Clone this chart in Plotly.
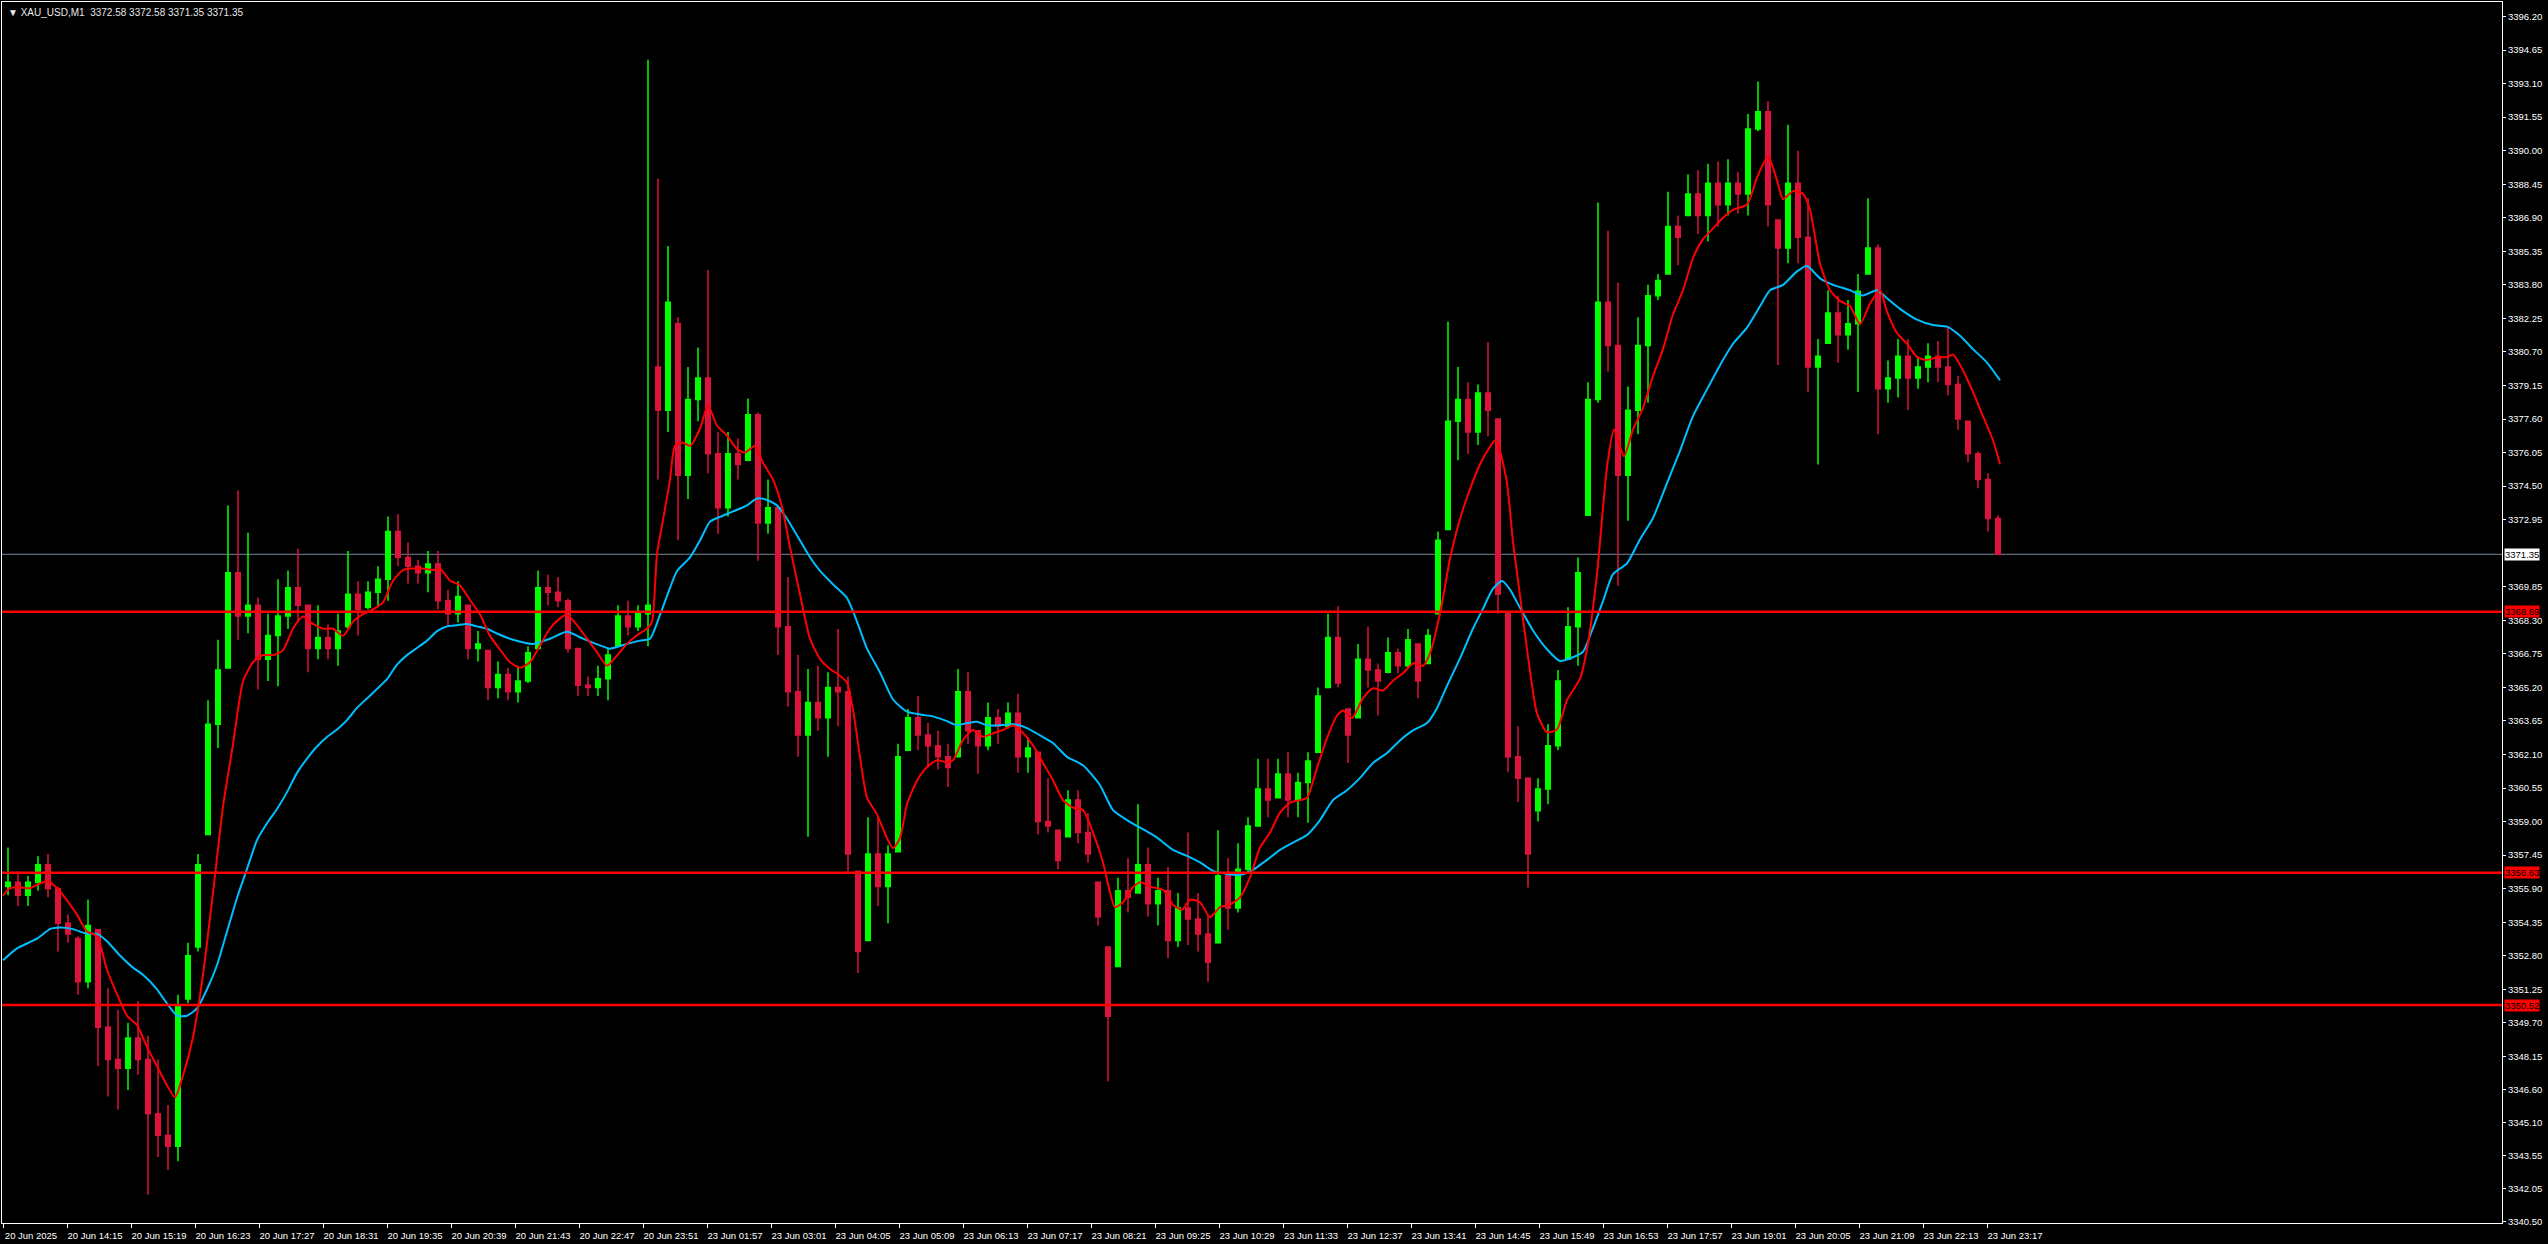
import plotly.graph_objects as go

# ---------------- data (10-minute groups of the M1 bars) -------------
open_ = [
    3356.0, 3356.2, 3355.6, 3356.2, 3357.0, 3355.9, 3354.3, 3353.6, 3351.6, 3354.0,
    3349.5, 3348.0, 3347.6, 3349.0, 3348.0, 3345.5, 3344.5, 3344.0, 3350.8, 3353.2,
    3358.4, 3363.5, 3366.1, 3370.5, 3368.5, 3369.0, 3366.5, 3367.6, 3368.5, 3369.8,
    3369.0, 3367.0, 3367.5, 3367.0, 3368.0, 3369.5, 3368.9, 3369.6, 3370.2, 3372.4,
    3371.2, 3370.8, 3370.5, 3370.9, 3369.2, 3368.6, 3369.0, 3367.0, 3366.9, 3365.2,
    3365.8, 3365.0, 3365.5, 3367.0, 3369.8, 3369.6, 3369.2, 3367.0, 3365.3, 3365.2,
    3365.6, 3367.1, 3368.5, 3368.0, 3368.6, 3380.0, 3378.0, 3382.0, 3375.0, 3378.5,
    3379.5, 3376.0, 3373.5, 3376.0, 3375.7, 3377.8, 3372.8, 3373.5, 3368.0, 3365.0,
    3363.0, 3364.5, 3363.8, 3365.2, 3365.0, 3356.7, 3353.5, 3357.5, 3356.0, 3357.6,
    3362.3, 3363.8, 3363.0, 3362.5, 3362.0, 3362.0, 3365.0, 3363.2, 3362.5, 3363.8,
    3363.4, 3364.0, 3362.0, 3362.2, 3359.0, 3358.6, 3358.3, 3360.0, 3358.5, 3356.2,
    3353.2, 3352.3, 3355.8, 3355.7, 3357.0, 3355.2, 3355.8, 3353.5, 3355.0, 3354.5,
    3353.8, 3353.4, 3356.5, 3355.0, 3356.8, 3358.8, 3360.5, 3360.1, 3361.2, 3360.0,
    3360.8, 3362.2, 3365.2, 3367.5, 3364.2, 3363.8, 3366.5, 3366.0, 3365.9, 3366.8,
    3366.2, 3367.2, 3366.3, 3368.6, 3372.5, 3377.5, 3378.5, 3377.0, 3378.8, 3377.6,
    3368.7, 3362.0, 3361.0, 3359.5, 3360.5, 3362.5, 3366.5, 3368.0, 3373.15, 3378.5,
    3383.0, 3381.0, 3375.0, 3378.0, 3381.0, 3383.3, 3384.3, 3386.5, 3387.0, 3388.0,
    3387.0, 3388.5, 3387.5, 3388.5, 3388.0, 3391.0, 3391.8, 3386.8, 3385.5, 3388.5,
    3386.0, 3380.0, 3381.1, 3382.5, 3381.5, 3382.0, 3384.3, 3385.5, 3379.0, 3379.5,
    3380.5, 3379.5, 3380.0, 3380.5, 3380.0, 3379.2, 3377.5, 3376.0, 3374.8, 3373.0,
]
high = [
    3357.8, 3356.7, 3356.5, 3357.4, 3357.5, 3356.0, 3354.7, 3353.7, 3355.4, 3354.0,
    3351.3, 3350.3, 3349.7, 3350.7, 3349.1, 3348.0, 3345.9, 3351.0, 3353.4, 3357.5,
    3364.6, 3367.4, 3373.6, 3374.3, 3372.35, 3369.35, 3368.6, 3370.2, 3370.6, 3371.6,
    3369.0, 3369.0, 3368.1, 3368.6, 3371.5, 3370.1, 3370.1, 3370.8, 3373.1, 3373.2,
    3371.9, 3371.1, 3371.5, 3371.5, 3369.7, 3370.1, 3369.0, 3367.8, 3366.9, 3366.4,
    3366.1, 3366.2, 3367.1, 3370.6, 3370.4, 3370.3, 3369.3, 3367.0, 3365.7, 3366.2,
    3367.0, 3369.0, 3369.2, 3369.0, 3394.2, 3388.7, 3385.6, 3382.3, 3380.0, 3380.9,
    3384.5, 3377.0, 3377.0, 3376.7, 3378.55, 3377.9, 3374.8, 3373.55, 3370.3, 3366.7,
    3366.05, 3366.2, 3365.9, 3367.9, 3365.7, 3356.7, 3359.2, 3359.2, 3357.9, 3362.6,
    3364.2, 3364.8, 3363.55, 3363.2, 3362.6, 3366.05, 3365.9, 3363.2, 3364.5, 3364.2,
    3364.5, 3364.9, 3362.9, 3362.2, 3361.0, 3358.6, 3360.45, 3360.45, 3359.4, 3356.2,
    3353.2, 3356.4, 3357.3, 3359.8, 3357.8, 3356.4, 3356.9, 3355.7, 3358.5, 3355.7,
    3354.7, 3358.6, 3357.3, 3358.0, 3359.2, 3361.9, 3361.9, 3361.9, 3362.2, 3361.25,
    3362.2, 3365.2, 3368.6, 3368.95, 3364.2, 3367.2, 3368.0, 3366.3, 3367.5, 3367.0,
    3367.9, 3367.2, 3367.9, 3372.4, 3382.1, 3380.0, 3379.3, 3379.2, 3381.15, 3377.6,
    3368.7, 3363.4, 3361.0, 3361.0, 3363.5, 3366.0, 3368.9, 3371.2, 3379.3, 3387.6,
    3386.3, 3383.9, 3379.1, 3382.3, 3383.8, 3384.3, 3388.1, 3387.0, 3388.9, 3389.1,
    3389.4, 3389.5, 3389.6, 3389.0, 3391.7, 3393.2, 3392.3, 3386.8, 3391.2, 3390.0,
    3387.8, 3381.3, 3383.55, 3383.3, 3383.1, 3384.3, 3387.8, 3385.66, 3380.3, 3381.3,
    3381.3, 3380.5, 3381.1, 3381.2, 3381.9, 3379.6, 3377.5, 3376.1, 3375.1, 3373.15,
]
low = [
    3355.6, 3355.1, 3355.1, 3355.8, 3355.5, 3353.0, 3353.4, 3351.0, 3351.3, 3347.7,
    3346.3, 3345.7, 3346.6, 3347.3, 3341.75, 3343.5, 3342.9, 3343.3, 3350.6, 3353.0,
    3358.4, 3362.4, 3366.1, 3367.4, 3367.7, 3365.1, 3365.5, 3365.25, 3367.9, 3368.2,
    3365.9, 3366.5, 3366.5, 3366.2, 3367.9, 3367.6, 3368.8, 3368.9, 3369.2, 3370.8,
    3370.0, 3370.0, 3369.6, 3368.8, 3368.0, 3368.2, 3366.5, 3366.4, 3364.6, 3364.7,
    3364.6, 3364.5, 3365.4, 3367.0, 3369.0, 3368.9, 3366.8, 3364.8, 3364.8, 3364.8,
    3364.6, 3367.1, 3367.6, 3367.8, 3367.1, 3374.8, 3377.0, 3372.0, 3373.9, 3377.5,
    3375.1, 3372.3, 3373.1, 3374.8, 3375.7, 3371.05, 3372.3, 3366.7, 3364.3, 3362.0,
    3358.3, 3363.2, 3362.0, 3363.4, 3356.7, 3352.0, 3353.5, 3355.1, 3354.3, 3357.6,
    3362.3, 3362.3, 3361.5, 3361.4, 3360.6, 3362.0, 3362.6, 3361.2, 3362.3, 3362.6,
    3363.3, 3361.25, 3361.25, 3358.4, 3358.5, 3356.8, 3358.3, 3358.0, 3357.1, 3354.2,
    3347.0, 3352.3, 3354.8, 3355.7, 3354.6, 3354.2, 3352.7, 3353.2, 3353.3, 3353.0,
    3351.6, 3353.4, 3354.0, 3354.8, 3356.65, 3358.8, 3359.2, 3360.1, 3359.2, 3359.2,
    3358.95, 3362.2, 3365.2, 3365.2, 3361.7, 3363.8, 3365.2, 3363.9, 3365.85, 3365.85,
    3366.1, 3364.7, 3366.3, 3368.6, 3372.5, 3375.7, 3376.0, 3376.4, 3376.8, 3368.6,
    3361.3, 3359.9, 3355.95, 3359.0, 3359.8, 3362.3, 3366.5, 3366.2, 3373.15, 3378.35,
    3379.8, 3369.9, 3372.9, 3376.9, 3378.35, 3383.1, 3384.3, 3384.7, 3387.0, 3386.15,
    3385.8, 3386.5, 3387.0, 3387.1, 3387.0, 3390.9, 3386.5, 3380.1, 3384.8, 3384.8,
    3378.85, 3375.5, 3381.1, 3380.2, 3380.8, 3378.85, 3384.3, 3376.9, 3378.35, 3378.6,
    3378.0, 3379.0, 3379.3, 3379.3, 3378.7, 3377.1, 3375.6, 3374.4, 3372.4, 3371.35,
]
close = [
    3356.2, 3355.6, 3356.2, 3357.0, 3355.9, 3354.3, 3353.8, 3351.6, 3354.2, 3349.5,
    3348.0, 3347.6, 3349.0, 3348.0, 3345.5, 3344.5, 3344.0, 3350.5, 3352.8, 3357.0,
    3363.5, 3366.0, 3370.5, 3368.5, 3369.0, 3366.5, 3367.6, 3368.5, 3369.8, 3369.0,
    3367.0, 3367.5, 3367.0, 3367.8, 3369.5, 3368.8, 3369.6, 3370.2, 3372.4, 3371.2,
    3370.8, 3370.5, 3370.9, 3369.2, 3368.6, 3369.4, 3367.0, 3367.2, 3365.2, 3365.8,
    3365.0, 3365.5, 3366.8, 3369.8, 3369.6, 3369.2, 3367.0, 3365.3, 3365.2, 3365.6,
    3366.7, 3368.5, 3368.0, 3368.6, 3369.0, 3378.0, 3383.0, 3375.0, 3378.5, 3379.5,
    3376.0, 3373.5, 3376.0, 3375.5, 3377.8, 3372.8, 3373.5, 3368.0, 3365.0, 3363.0,
    3364.5, 3363.8, 3365.2, 3365.0, 3357.5, 3353.0, 3357.5, 3356.0, 3357.5, 3362.0,
    3363.8, 3363.0, 3362.5, 3362.0, 3361.5, 3365.0, 3363.2, 3362.5, 3363.8, 3363.4,
    3364.0, 3362.0, 3362.4, 3359.0, 3358.8, 3357.2, 3360.0, 3358.5, 3357.5, 3354.6,
    3350.0, 3355.8, 3355.5, 3357.0, 3355.2, 3355.8, 3353.5, 3355.0, 3354.5, 3353.8,
    3352.5, 3356.5, 3355.0, 3356.8, 3358.8, 3360.5, 3360.0, 3361.2, 3360.0, 3360.8,
    3361.8, 3364.8, 3367.5, 3365.4, 3363.0, 3366.5, 3366.0, 3365.5, 3366.8, 3366.2,
    3367.4, 3365.5, 3367.6, 3372.0, 3377.5, 3378.5, 3377.0, 3378.8, 3378.0, 3369.5,
    3362.0, 3361.0, 3357.5, 3360.5, 3362.5, 3365.5, 3368.0, 3370.5, 3378.5, 3383.0,
    3381.0, 3375.0, 3378.0, 3381.0, 3383.3, 3384.0, 3386.5, 3386.0, 3388.0, 3387.0,
    3388.5, 3387.5, 3388.5, 3388.0, 3391.0, 3391.8, 3387.5, 3385.5, 3388.5, 3386.0,
    3380.0, 3380.5, 3382.5, 3381.5, 3382.0, 3383.5, 3385.5, 3379.0, 3379.5, 3380.5,
    3379.5, 3380.0, 3380.5, 3380.0, 3379.2, 3377.6, 3376.0, 3374.8, 3373.0, 3371.35,
]

# red moving average: (bar-minute index, price)
red_ma_x = [0, 7, 17, 27, 37, 45, 54, 64, 74, 84, 94, 104, 114, 124, 134, 144, 154, 164, 172, 180,
            190, 200, 210, 220, 230, 240, 250, 260, 270, 280, 290, 300, 310, 320, 330, 340, 350, 360,
            370, 380, 390, 400, 410, 420, 430, 437, 447, 457, 467, 477, 487, 497, 507, 517, 527, 537,
            547, 557, 564, 574, 584, 594, 604, 614, 624, 634, 644, 649, 654, 660, 667, 672, 680, 687,
            697, 705, 714, 724, 734, 742, 752, 760, 770, 779, 787, 797, 807, 817, 827, 837, 844, 850,
            857, 864, 874, 884, 890, 897, 904, 914, 924, 934, 944, 950, 960, 970, 980, 990, 1000, 1010,
            1020, 1030, 1040, 1050, 1060, 1070, 1080, 1090, 1100, 1107, 1112, 1120, 1130, 1137, 1150,
            1160, 1170, 1179, 1187, 1197, 1207, 1217, 1227, 1237, 1247, 1257, 1267, 1277, 1287, 1297,
            1304, 1314, 1324, 1334, 1340, 1349, 1360, 1370, 1380, 1390, 1400, 1410, 1420, 1427, 1437,
            1447, 1457, 1467, 1477, 1487, 1492, 1497, 1504, 1510, 1517, 1524, 1534, 1544, 1554, 1564,
            1577, 1584, 1594, 1604, 1611, 1621, 1630, 1640, 1650, 1660, 1670, 1680, 1690, 1700, 1710,
            1720, 1730, 1744, 1754, 1765, 1774, 1780, 1790, 1800, 1807, 1817, 1827, 1837, 1847, 1857,
            1867, 1877, 1884, 1894, 1904, 1914, 1924, 1934, 1944, 1950, 1960, 1970, 1980, 1990, 1997]
red_ma_y = [3355.58, 3355.92, 3355.96, 3355.92, 3356.14, 3356.25, 3355.92, 3355.36, 3354.70, 3353.92,
            3353.70, 3352.14, 3351.03, 3350.03, 3349.59, 3348.59, 3347.70, 3346.81, 3346.26, 3347.26,
            3349.03, 3351.92, 3355.70, 3359.69, 3362.58, 3365.47, 3366.36, 3366.69, 3366.69, 3366.91,
            3367.91, 3368.47, 3368.13, 3367.91, 3367.91, 3367.58, 3368.24, 3368.58, 3368.80, 3369.13,
            3370.13, 3370.62, 3370.69, 3370.69, 3370.62, 3370.69, 3370.13, 3369.91, 3369.24, 3368.58,
            3367.58, 3366.95, 3366.36, 3366.11, 3366.36, 3367.14, 3367.92, 3368.39, 3368.55, 3368.08,
            3367.45, 3366.83, 3366.20, 3366.67, 3367.21, 3367.61, 3367.92, 3368.24, 3371.36, 3372.93,
            3374.80, 3376.36, 3376.52, 3376.36, 3377.15, 3378.24, 3377.30, 3376.83, 3376.21, 3376.05,
            3376.36, 3375.58, 3374.80, 3373.55, 3371.67, 3369.49, 3367.45, 3366.52, 3366.05, 3365.74,
            3365.42, 3364.17, 3361.98, 3360.11, 3359.33, 3358.23, 3357.77, 3358.23, 3359.80, 3360.89,
            3361.52, 3361.83, 3361.74, 3361.83, 3362.77, 3363.23, 3362.92, 3363.08, 3363.23, 3363.44,
            3363.09, 3362.52, 3361.71, 3360.91, 3359.99, 3359.64, 3359.53, 3358.49, 3357.11, 3355.73,
            3355.04, 3355.27, 3355.96, 3356.19, 3355.96, 3355.85, 3355.16, 3354.93, 3355.39, 3355.27,
            3354.58, 3355.04, 3355.16, 3355.50, 3356.42, 3357.80, 3358.49, 3359.41, 3359.87, 3359.99,
            3360.10, 3361.48, 3362.86, 3363.90, 3364.13, 3363.78, 3364.70, 3365.16, 3365.05, 3365.51,
            3365.85, 3366.31, 3366.20, 3366.77, 3368.61, 3371.14, 3372.98, 3374.36, 3375.51, 3376.32,
            3376.61, 3376.13, 3374.64, 3371.92, 3369.44, 3366.96, 3364.00, 3363.13, 3363.25, 3364.61,
            3365.60, 3366.96, 3370.43, 3375.38, 3377.12, 3375.88, 3377.12, 3378.11, 3379.59, 3380.83,
            3382.44, 3383.55, 3385.04, 3385.91, 3386.40, 3386.90, 3387.27, 3387.51, 3388.75, 3389.74,
            3388.63, 3387.76, 3388.13, 3388.01, 3387.27, 3384.79, 3383.55, 3383.06, 3382.81, 3381.99,
            3382.93, 3383.55, 3382.56, 3381.57, 3381.08, 3380.46, 3380.33, 3380.46, 3380.46, 3380.58,
            3379.84, 3378.85, 3377.73, 3376.62, 3375.51]

# blue (slow) moving average
blue_ma_x = [0, 14, 34, 47, 57, 70, 84, 94, 104, 117, 130, 140, 154, 164, 174, 184, 194, 204, 214, 224,
             234, 244, 254, 264, 274, 284, 294, 304, 314, 324, 334, 344, 354, 364, 374, 384, 394, 404,
             414, 424, 434, 444, 454, 464, 474, 484, 494, 510, 530, 547, 564, 580, 597, 607, 624, 637,
             647, 657, 667, 674, 687, 697, 707, 717, 730, 744, 754, 764, 774, 784, 797, 807, 817, 830,
             844, 854, 864, 877, 890, 904, 917, 930, 944, 954, 964, 974, 984, 997, 1010, 1024, 1037,
             1050, 1064, 1080, 1097, 1110, 1124, 1137, 1154, 1170, 1184, 1197, 1210, 1224, 1237, 1250,
             1264, 1277, 1290, 1304, 1317, 1330, 1344, 1357, 1370, 1384, 1397, 1410, 1424, 1434, 1444,
             1457, 1470, 1480, 1490, 1499, 1507, 1517, 1530, 1544, 1557, 1570, 1580, 1590, 1600, 1610,
             1624, 1637, 1650, 1664, 1677, 1690, 1704, 1717, 1730, 1744, 1757, 1767, 1780, 1794, 1804,
             1817, 1830, 1847, 1860, 1874, 1884, 1897, 1914, 1930, 1944, 1957, 1970, 1984, 1997]
blue_ma_y = [3352.59, 3353.14, 3353.59, 3354.03, 3354.10, 3354.03, 3353.81, 3353.81, 3353.47, 3352.81,
             3352.25, 3351.92, 3351.25, 3350.59, 3350.03, 3350.03, 3350.37, 3351.25, 3352.36, 3353.92,
             3355.47, 3356.81, 3358.14, 3358.92, 3359.58, 3360.36, 3361.25, 3361.91, 3362.47, 3362.91,
             3363.25, 3363.69, 3364.25, 3364.69, 3365.13, 3365.58, 3366.25, 3366.69, 3367.02, 3367.36,
             3367.80, 3368.02, 3368.07, 3368.13, 3368.02, 3367.91, 3367.69, 3367.40, 3367.21, 3367.45,
             3367.77, 3367.45, 3367.14, 3366.99, 3367.21, 3367.36, 3367.45, 3368.55, 3369.80, 3370.58,
             3371.21, 3371.99, 3372.86, 3373.08, 3373.33, 3373.61, 3373.93, 3373.86, 3373.61, 3372.99,
             3371.99, 3371.21, 3370.58, 3369.96, 3369.33, 3368.24, 3366.99, 3365.89, 3364.64, 3364.08,
             3363.95, 3363.86, 3363.64, 3363.45, 3363.55, 3363.61, 3363.45, 3363.45, 3363.50, 3363.32,
             3362.98, 3362.63, 3361.99, 3361.60, 3360.68, 3359.53, 3359.07, 3358.72, 3358.26, 3357.69,
             3357.41, 3357.11, 3356.72, 3356.58, 3356.54, 3356.77, 3357.23, 3357.69, 3358.03, 3358.38,
             3359.07, 3359.99, 3360.45, 3361.02, 3361.71, 3362.17, 3362.75, 3363.21, 3363.55, 3364.24,
             3365.27, 3366.54, 3367.92, 3368.84, 3369.76, 3370.11, 3369.72, 3368.88, 3367.83, 3366.96,
             3366.42, 3366.59, 3366.84, 3367.95, 3369.19, 3370.43, 3370.93, 3372.04, 3373.03, 3374.64,
             3376.13, 3377.73, 3378.97, 3380.09, 3381.08, 3381.82, 3382.81, 3383.55, 3383.80, 3384.42,
             3384.67, 3384.10, 3383.80, 3383.55, 3383.31, 3383.55, 3383.18, 3382.69, 3382.19, 3381.94,
             3381.87, 3381.45, 3380.83, 3380.21, 3379.39]

support_levels = [3368.69, 3356.63, 3350.52]
bid_price = 3371.35
title_text = "XAU_USD,M1\u00a0\u00a03372.58 3372.58 3371.35 3371.35"

time_labels = ["20 Jun 2025", "20 Jun 14:15", "20 Jun 15:19", "20 Jun 16:23", "20 Jun 17:27",
               "20 Jun 18:31", "20 Jun 19:35", "20 Jun 20:39", "20 Jun 21:43", "20 Jun 22:47",
               "20 Jun 23:51", "23 Jun 01:57", "23 Jun 03:01", "23 Jun 04:05", "23 Jun 05:09",
               "23 Jun 06:13", "23 Jun 07:17", "23 Jun 08:21", "23 Jun 09:25", "23 Jun 10:29",
               "23 Jun 11:33", "23 Jun 12:37", "23 Jun 13:41", "23 Jun 14:45", "23 Jun 15:49",
               "23 Jun 16:53", "23 Jun 17:57", "23 Jun 19:01", "23 Jun 20:05", "23 Jun 21:09",
               "23 Jun 22:13", "23 Jun 23:17"]
time_label_pos = [64 * i for i in range(len(time_labels))]   # one label every 64 bars

price_labels = ["3340.50", "3342.05", "3343.55", "3345.10", "3346.60", "3348.15", "3349.70",
                "3351.25", "3352.80", "3354.35", "3355.90", "3357.45", "3359.00", "3360.55",
                "3362.10", "3363.65", "3365.20", "3366.75", "3368.30", "3369.85", "3372.95",
                "3374.50", "3376.05", "3377.60", "3379.15", "3380.70", "3382.25", "3383.80",
                "3385.35", "3386.90", "3388.45", "3390.00", "3391.55", "3393.10", "3394.65",
                "3396.20"]

# ---------------- figure -------------
FONT = "Liberation Sans, Arial, sans-serif"
bar_x = [5 + 10 * i for i in range(len(close))]   # each group spans 10 one-minute slots

fig = go.Figure()
fig.add_trace(go.Candlestick(
    x=bar_x, open=open_, high=high, low=low, close=close,
    increasing=dict(line=dict(color="#00FF00", width=1.5), fillcolor="#00FF00"),
    decreasing=dict(line=dict(color="#DC143C", width=1.5), fillcolor="#DC143C"),
    whiskerwidth=0, showlegend=False, hoverinfo="skip",
))
fig.add_trace(go.Scatter(x=blue_ma_x, y=blue_ma_y, mode="lines",
                         line=dict(color="#00BFFF", width=2, shape="spline", smoothing=0.6),
                         showlegend=False, hoverinfo="skip"))
fig.add_trace(go.Scatter(x=red_ma_x, y=red_ma_y, mode="lines",
                         line=dict(color="#FF0000", width=2, shape="spline", smoothing=0.6),
                         showlegend=False, hoverinfo="skip"))

shapes = [dict(type="line", xref="paper", x0=0, x1=1, yref="y", y0=bid_price, y1=bid_price,
               line=dict(color="#778899", width=1), layer="below")]
for lv in support_levels:
    shapes.append(dict(type="line", xref="paper", x0=0, x1=1, yref="y", y0=lv, y1=lv,
                       line=dict(color="#FF0000", width=2.5), layer="above"))

annotations = [
    dict(xref="paper", yref="paper", x=0, y=1, xanchor="left", yanchor="top",
         xshift=4, yshift=-3, showarrow=False,
         text="\u25BC " + title_text, font=dict(family=FONT, size=10, color="#E8E8E8")),
    dict(xref="paper", yref="y", x=1, y=bid_price, xanchor="left", yanchor="middle",
         xshift=2, showarrow=False, text="%.2f" % bid_price, bgcolor="#FFFFFF",
         borderpad=0, font=dict(family=FONT, size=9.5, color="#000000")),
]
for lv in support_levels:
    annotations.append(dict(xref="paper", yref="y", x=1, y=lv, xanchor="left", yanchor="middle",
                            xshift=2, showarrow=False, text="%.2f" % lv, bgcolor="#FF0000",
                            borderpad=0, font=dict(family=FONT, size=9.5, color="#000000")))

fig.update_layout(
    width=2548, height=1244,
    paper_bgcolor="#000000", plot_bgcolor="#000000",
    margin=dict(l=2, r=46, t=2, b=21, pad=0),
    boxgap=0.35,
    showlegend=False,
    shapes=shapes, annotations=annotations,
    xaxis=dict(range=[-1, 2499], showgrid=False, zeroline=False, showline=True,
               linecolor="#FFFFFF", linewidth=1, mirror=True,
               ticks="outside", ticklen=4, tickcolor="#FFFFFF", tickwidth=1,
               tickvals=time_label_pos, ticktext=time_labels, ticklabelshift=28,
               tickfont=dict(family=FONT, size=9.5, color="#FFFFFF"),
               rangeslider=dict(visible=False), fixedrange=True),
    yaxis=dict(side="right", range=[3340.45, 3396.87], showgrid=False, zeroline=False,
               showline=True, linecolor="#FFFFFF", linewidth=1, mirror=True,
               ticks="outside", ticklen=3, tickcolor="#FFFFFF", tickwidth=1,
               tickvals=[float(v) for v in price_labels], ticktext=price_labels,
               tickfont=dict(family=FONT, size=9.5, color="#FFFFFF"), fixedrange=True),
)

fig.write_html("out.html",
               config={"displayModeBar": False},
               post_script="document.body.style.margin='0px';"
                           "document.body.style.background='#000000';"
                           "document.body.style.overflow='hidden';")
